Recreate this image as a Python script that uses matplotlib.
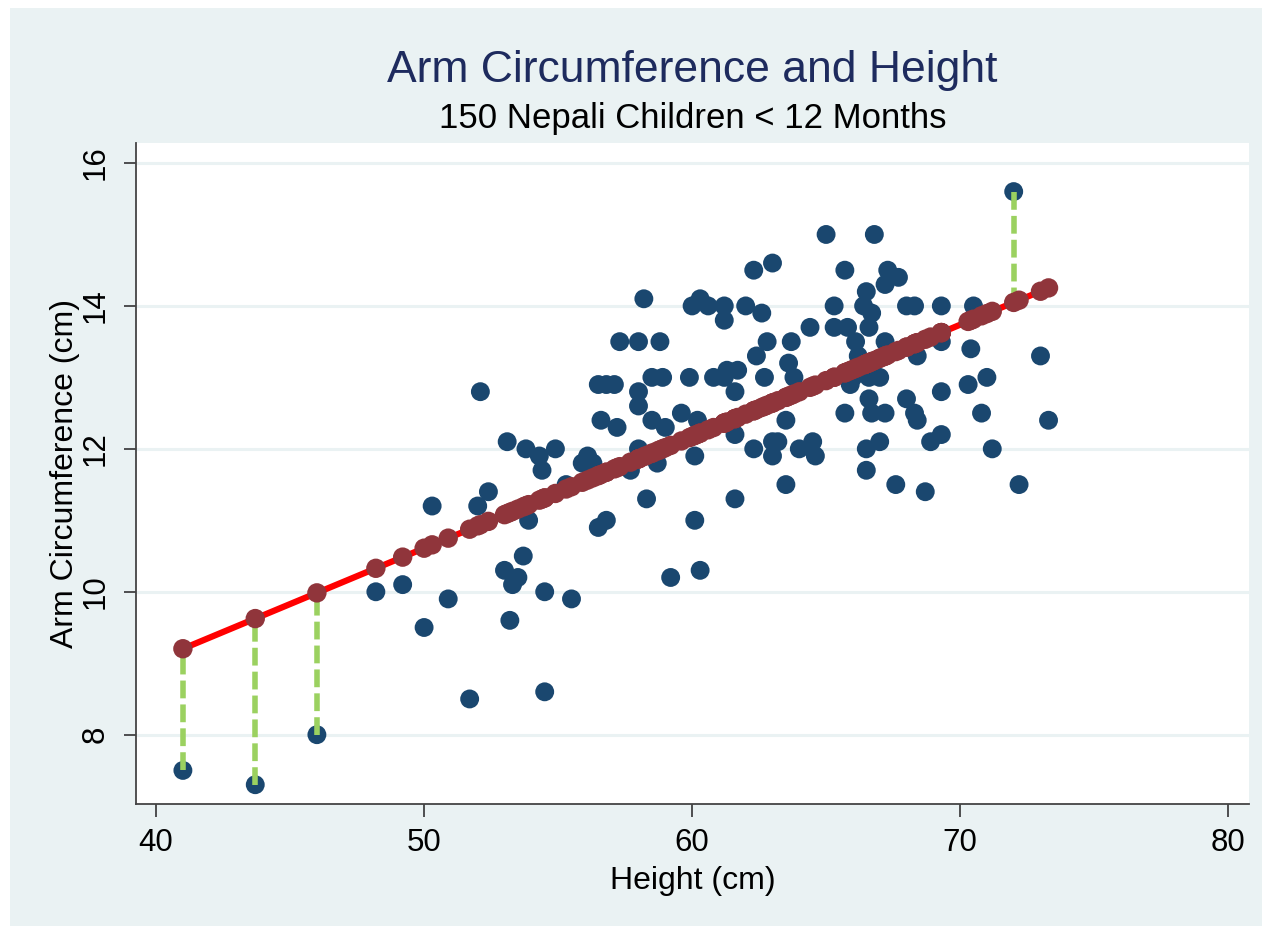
import numpy as np
import matplotlib
matplotlib.use("Agg")
import matplotlib.pyplot as plt
from matplotlib.patches import Rectangle

plt.rcParams['font.family'] = ['Liberation Sans', 'DejaVu Sans']

# heights (cm) and arm circumference (cm)
height = [41.0, 43.7, 46.0, 48.2, 49.2, 50.0, 50.3, 50.9, 51.7, 52.1,
          52.0, 52.4, 53.1, 53.8, 53.9, 53.7, 53.0, 53.5, 53.3, 53.2,
          54.3, 54.9, 54.4, 54.5, 54.5, 55.5, 55.3, 56.1, 56.3, 55.9,
          56.5, 56.8, 56.6, 57.2, 56.5, 56.8, 57.1, 57.3, 58.0, 58.8,
          58.2, 58.0, 58.0, 58.0, 57.7, 58.7, 58.3, 58.5, 58.9, 58.5,
          59.0, 59.6, 59.2, 59.9, 60.0, 60.3, 60.6, 60.2, 60.1, 60.1,
          60.3, 60.8, 61.2, 61.3, 61.7, 61.2, 61.2, 61.6, 61.6, 61.6,
          62.0, 62.6, 62.3, 63.0, 62.8, 62.4, 62.7, 62.3, 63.0, 63.2,
          63.0, 63.7, 63.6, 63.8, 63.5, 63.5, 64.4, 64.0, 64.5, 64.6,
          65.0, 65.3, 65.3, 65.8, 65.7, 65.9, 65.7, 66.1, 66.2, 66.5,
          66.4, 66.7, 66.6, 66.0, 66.6, 67.0, 66.6, 66.7, 67.2, 66.5,
          67.0, 66.5, 66.8, 67.3, 67.7, 67.2, 67.2, 67.6, 68.0, 68.3,
          68.0, 68.3, 68.4, 68.4, 68.7, 68.9, 69.3, 69.3, 69.3, 69.3,
          70.5, 70.4, 70.3, 71.0, 70.8, 71.2, 72.0, 72.2, 73.0, 73.3]

arm_circ = [7.5, 7.3, 8.0, 10.0, 10.1, 9.5, 11.2, 9.9, 8.5, 12.8,
            11.2, 11.4, 12.1, 12.0, 11.0, 10.5, 10.3, 10.2, 10.1, 9.6,
            11.9, 12.0, 11.7, 10.0, 8.6, 9.9, 11.5, 11.9, 11.8, 11.8,
            10.9, 11.0, 12.4, 12.3, 12.9, 12.9, 12.9, 13.5, 13.5, 13.5,
            14.1, 12.8, 12.6, 12.0, 11.7, 11.8, 11.3, 13.0, 13.0, 12.4,
            12.3, 12.5, 10.2, 13.0, 14.0, 14.1, 14.0, 12.4, 11.9, 11.0,
            10.3, 13.0, 13.0, 13.1, 13.1, 14.0, 13.8, 12.8, 12.2, 11.3,
            14.0, 13.9, 14.5, 14.6, 13.5, 13.3, 13.0, 12.0, 12.1, 12.1,
            11.9, 13.5, 13.2, 13.0, 12.4, 11.5, 13.7, 12.0, 12.1, 11.9,
            15.0, 14.0, 13.7, 13.7, 14.5, 12.9, 12.5, 13.5, 13.3, 14.2,
            14.0, 13.9, 13.7, 13.0, 13.0, 13.0, 12.7, 12.5, 12.5, 12.0,
            12.1, 11.7, 15.0, 14.5, 14.4, 14.3, 13.5, 11.5, 14.0, 14.0,
            12.7, 12.5, 12.4, 13.3, 11.4, 12.1, 12.2, 14.0, 13.5, 12.8,
            14.0, 13.4, 12.9, 13.0, 12.5, 12.0, 15.6, 11.5, 13.3, 12.4]

# children whose residuals are drawn
resid_heights = [41.0, 43.7, 46.0, 72.0]

x_ticks = [40, 50, 60, 70, 80]
y_ticks = [8, 10, 12, 14, 16]

BG = '#EAF2F3'
NAVY = '#1A476F'
MAROON = '#90353B'
GREEN = '#9BD160'

x = np.array(height)
y = np.array(arm_circ)
slope, intercept = np.polyfit(x, y, 1)
fitted = intercept + slope * x

fig = plt.figure(figsize=(12.62, 9.26), dpi=100, facecolor='white')
fig.patches.append(Rectangle((10 / 1262, 0), 1, 1 - 8 / 926, transform=fig.transFigure,
                             facecolor=BG, edgecolor='none', zorder=-10))
ax = fig.add_axes([136 / 1262, 1 - 804 / 926, (1249 - 136) / 1262, (804 - 143) / 926])
ax.set_facecolor('white')

ax.scatter(x, y, s=185, color=NAVY, edgecolors='none', zorder=3)

for h in resid_heights:
    i = height.index(h)
    ax.plot([x[i], x[i]], [y[i], fitted[i]], color=GREEN, lw=4,
            linestyle=(0, (3.2, 1.1)), zorder=4, solid_capstyle='butt')

xs = np.sort(x)
ax.plot(xs, intercept + slope * xs, color='#FF0000', lw=4.5, zorder=5, solid_capstyle='round')
ax.scatter(x, fitted, s=195, color=MAROON, edgecolors='none', zorder=6)

ax.set_xlim(39.25, 80.78)
ax.set_ylim(7.03, 16.28)
ax.set_xticks(x_ticks)
ax.set_yticks(y_ticks)
ax.set_xticklabels([str(t) for t in x_ticks])
ax.set_yticklabels([str(t) for t in y_ticks], rotation=90, va='center')
ax.tick_params(axis='both', labelsize=22.5, length=9, width=1.2, color='#333333', labelcolor='black')
ax.tick_params(axis='x', pad=8)
ax.tick_params(axis='y', pad=9)

ax.grid(axis='y', color=BG, lw=2.2, zorder=0)
ax.set_axisbelow(True)
for side in ['top', 'right']:
    ax.spines[side].set_visible(False)
for side in ['left', 'bottom']:
    ax.spines[side].set_color('#444444')
    ax.spines[side].set_linewidth(1.3)

ax.set_xlabel('Height (cm)', fontsize=23, labelpad=6)
ax.set_ylabel('Arm Circumference (cm)', fontsize=23, labelpad=1)

cx = (136 + 1249) / 2 / 1262
fig.text(cx, 1 - 82 / 926, 'Arm Circumference and Height', ha='center', va='baseline',
         fontsize=32, color='#1E2B5E')
fig.text(cx, 1 - 128 / 926, '150 Nepali Children < 12 Months', ha='center', va='baseline',
         fontsize=25, color='black')

fig.savefig('out.png', dpi=100, facecolor=fig.get_facecolor())
